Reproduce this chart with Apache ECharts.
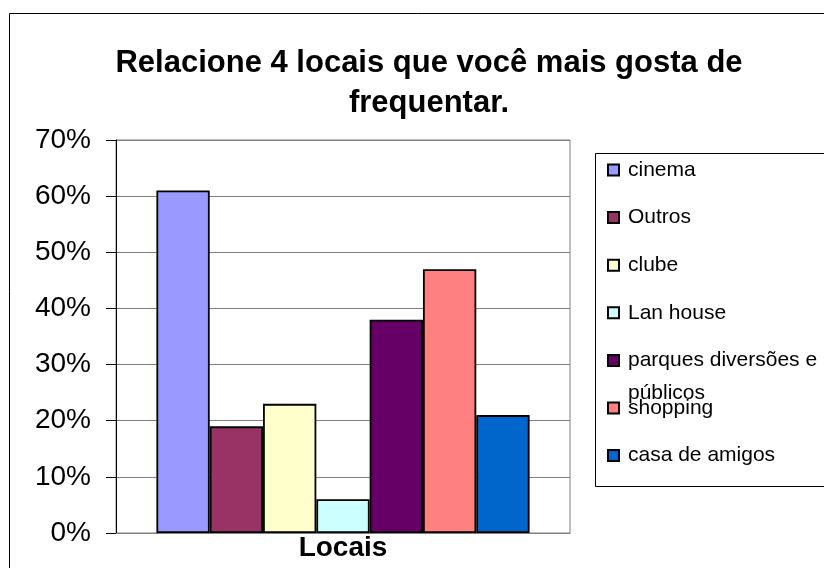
<!DOCTYPE html>
<html>
<head>
<meta charset="utf-8">
<script src="https://cdn.jsdelivr.net/npm/echarts@6/dist/echarts.min.js"></script>
<style>
  html, body { margin: 0; padding: 0; background: #fff; }
  #chart { width: 824px; height: 568px; }
</style>
</head>
<body>
<div id="chart"></div>
<script>
// dados (percentual por local)
var categorias = ['Locais'];
var locais = ['cinema', 'Outros', 'clube', 'Lan house', 'parques diversões e públicos', 'shopping', 'casa de amigos'];
var valores = [61, 19, 23, 6, 38, 47, 21];
var cores = ['#9999FF', '#993366', '#FFFFCC', '#CCFFFF', '#660066', '#FF8080', '#0066CC'];
var yTicks = [0, 10, 20, 30, 40, 50, 60, 70];

var fonte = "'Liberation Sans', Arial, sans-serif";

var series = [];
for (var i = 0; i < locais.length; i++) {
  series.push({
    name: locais[i],
    type: 'bar',
    barGap: 0,
    barCategoryGap: '17.8%',
    itemStyle: { color: cores[i], borderColor: '#000', borderWidth: 1.8 },
    data: [valores[i]]
  });
}

var chart = echarts.init(document.getElementById('chart'));
var option = {
  animation: false,
  backgroundColor: '#fff',
  color: cores,
  title: {
    text: 'Relacione 4 locais que você mais gosta de\nfrequentar.',
    left: 424,
    top: 38,
    textAlign: 'center',
    textStyle: { fontFamily: fonte, fontSize: 31, fontWeight: 'bold', color: '#000', lineHeight: 40 }
  },
  grid: {
    left: 116, top: 140, right: 254, bottom: 35,
    show: true, borderColor: '#808080', borderWidth: 1
  },
  legend: {
    orient: 'vertical',
    left: 607,
    top: 159,
    padding: 0,
    itemWidth: 11,
    itemHeight: 11,
    itemGap: 25.6,
    icon: 'rect',
    data: locais,
    formatter: function (n) {
      return n === 'parques diversões e públicos' ? 'parques diversões e' : n;
    },
    textStyle: { fontFamily: fonte, fontSize: 21, color: '#000', lineHeight: 22, padding: [0, 0, 0, 4] }
  },
  graphic: [
    {
      type: 'rect', z: -1,
      shape: { x: 9.5, y: 13.5, width: 900, height: 700 },
      style: { fill: '#fff', stroke: '#000', lineWidth: 1 }
    },
    {
      type: 'rect', z: 1,
      shape: { x: 595.5, y: 153.5, width: 300, height: 333 },
      style: { fill: '#fff', stroke: '#000', lineWidth: 1 }
    },
    {
      type: 'text', z: 5,
      x: 628, y: 393,
      style: { text: 'públicos', fontFamily: fonte, fontSize: 21, fill: '#000', verticalAlign: 'middle' }
    }
  ],
  xAxis: {
    type: 'category',
    data: categorias,
    axisLine: { lineStyle: { color: '#808080', width: 1 } },
    axisTick: { show: false },
    axisLabel: { margin: 1, fontFamily: fonte, fontSize: 28, fontWeight: 'bold', color: '#000' }
  },
  yAxis: {
    type: 'value',
    min: yTicks[0],
    max: yTicks[yTicks.length - 1],
    interval: 10,
    axisLine: { show: true, lineStyle: { color: '#000', width: 1 } },
    axisTick: { show: true, length: 10, lineStyle: { color: '#000' } },
    axisLabel: { formatter: '{value}%', margin: 25, fontFamily: fonte, fontSize: 28, color: '#000' },
    splitLine: { lineStyle: { color: '#808080', width: 1 } }
  },
  series: series
};
chart.setOption(option);
</script>
</body>
</html>
